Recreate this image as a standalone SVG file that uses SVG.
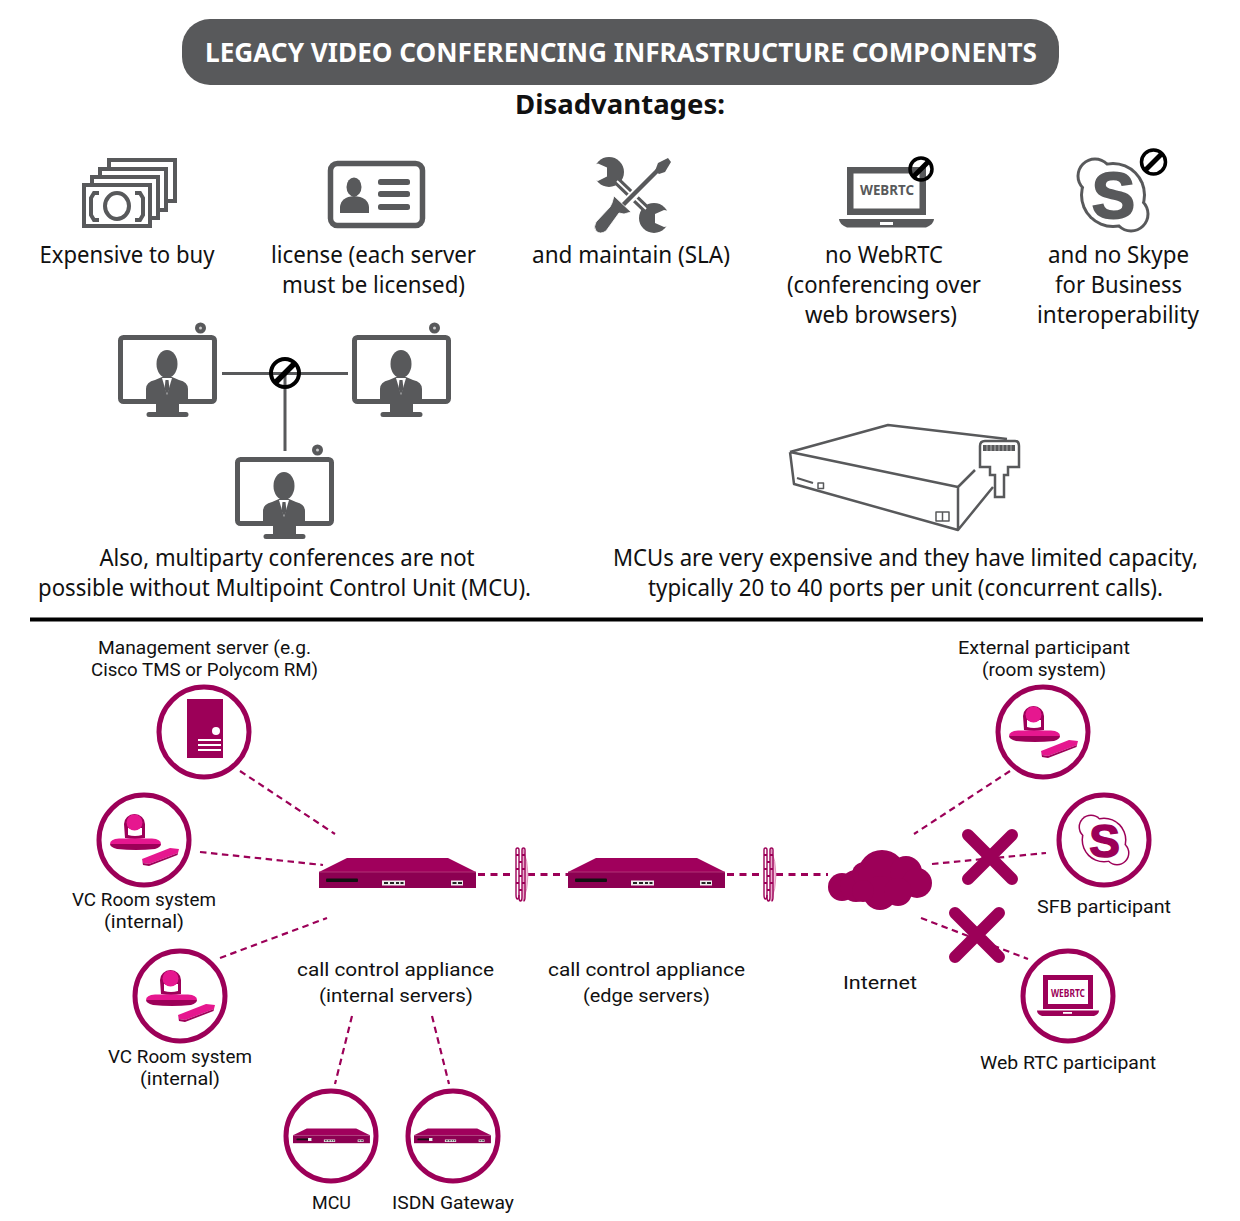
<svg xmlns="http://www.w3.org/2000/svg" xmlns:xlink="http://www.w3.org/1999/xlink" width="1240" height="1221" viewBox="0 0 1240 1221">
<style>
text{font-family:"Noto Sans","Open Sans","Liberation Sans",sans-serif;fill:#111}
.b{font-size:23px}
.l{font-size:18.7px;font-family:Roboto,"Noto Sans",sans-serif}
.h{font-weight:700}
.ring{fill:#fff;stroke:#9c0058;stroke-width:5}
.dash{fill:none;stroke:#9c0058;stroke-width:2.200;stroke-dasharray:6.500 4.500}
.chain{fill:none;stroke:#9c0058;stroke-width:2.800;stroke-dasharray:7 5.500}
.x{fill:none;stroke:#9c0058;stroke-width:12;stroke-linecap:round}
.ban{fill:none;stroke:#000;stroke-width:3.500}
.g{fill:#58595b}
.gs{fill:none;stroke:#58595b}
.m{fill:#9c0058}
.p{fill:#e6178f}
.sk{font-family:"Liberation Sans",Arial,sans-serif;font-weight:700}
</style>
<defs>
<symbol id="screen" overflow="visible" viewBox="0 0 99 85" width="99" height="85">
<circle cx="82.500" cy="-7" r="5.500" class="g"/><circle cx="82.500" cy="-7" r="1.500" fill="#ccc"/>
<rect x="2.500" y="2.500" width="94" height="64" rx="3" fill="#fff" stroke="#58595b" stroke-width="5"/>
<ellipse cx="49" cy="29" rx="10.500" ry="14" class="g"/>
<path class="g" d="M28 69V54Q28 47 37 45L44 42H54L61 45Q70 47 70 54V69H61V77H68Q70.500 77 70.500 79.500T68 82H31Q28.500 82 28.500 79.500T31 77H38V69Z"/>
<path fill="#fff" d="M44 43H54L49 60Z"/>
<path class="g" d="M47.500 45H50.500L51.500 54L49 59L46.500 54Z"/>
</symbol>
<symbol id="cam" overflow="visible" viewBox="0 0 94 94" width="94" height="94">
<path class="m" d="M27 31A10.500 10 0 0 1 48 31L48 45Q38 47 28 45Z"/>
<path fill="#fff" d="M31 35H45V42Q38 44 31 42Z"/>
<circle cx="37.500" cy="29.500" r="8" class="p"/>
<path class="p" d="M13 51Q13 46 22 45.500H55Q64 46 64 51Z"/>
<path class="m" d="M13 51H64Q64 54 58 56Q39 58 20 56Q13 54 13 51Z"/>
<path class="p" d="M45 66L73 55L82 56L81 60L52 71L46 70Z"/>
<path class="m" d="M45 66L46 70L52 71L81 60L80.500 62L52 73L46 72Z"/>
</symbol>
<symbol id="device" overflow="visible" viewBox="0 0 157 30" width="157" height="30">
<path d="M0 14L28 0H129L157 14Z" fill="#a0005c"/>
<rect y="14" width="157" height="16" fill="#8c0052"/>
<path d="M0 14H157" stroke="#b8407f" stroke-width=".8"/>
<rect x="7" y="20.500" width="32" height="3.500" rx="1" fill="#111"/>
<rect x="63" y="22.500" width="23" height="5" fill="#eee"/>
<path d="M65 24h4v2h-4zM71 24h4v2h-4zM77 24h3v2h-3zM81.500 24h3v2h-3z" fill="#222"/>
<rect x="132" y="22.500" width="12" height="5" fill="#eee"/>
<path d="M133.500 24h4v2h-4zM139 24h4v2h-4z" fill="#222"/>
</symbol>
<symbol id="fw" overflow="visible" viewBox="0 0 13 55" width="13" height="55">
<path d="M8 2Q13 14 13 28Q13 42 8 54Z" fill="#f3c3dc" stroke="#d98ab4" stroke-width=".8"/>
<g fill="none" stroke="#9c0058" stroke-width="1.400">
<path d="M1 3Q1 1 2.500 1T4 3V50Q4 54 5.500 54T7 50V3Q7 1 8.500 1T10 3V50Q10 54 8.500 54"/>
<path d="M1 3V48Q1 52 2.500 52T4 48"/>
</g>
<path stroke="#9c0058" stroke-width="2" d="M1 8H4M7 8H10M4 15H7M1 22H4M7 22H10M4 29H7M1 36H4M7 36H10M4 43H7"/>
</symbol>
</defs>

<g id="title">
<rect x="182" y="19" width="877" height="66" rx="28" fill="#58595b"/>
<text x="621" y="62" text-anchor="middle" font-size="26" font-weight="700" style="fill:#fff" textLength="832" lengthAdjust="spacingAndGlyphs">LEGACY VIDEO CONFERENCING INFRASTRUCTURE COMPONENTS</text>
</g>
<text x="620" y="114" text-anchor="middle" font-size="27" class="h" textLength="210" lengthAdjust="spacingAndGlyphs">Disadvantages:</text>

<g id="money">
<g fill="#fff" stroke="#58595b" stroke-width="4">
<rect x="109" y="160" width="66" height="41"/>
<rect x="100" y="169" width="66" height="41"/>
<rect x="92" y="177" width="66" height="41"/>
<rect x="84" y="185" width="66" height="41"/>
</g>
<ellipse cx="117" cy="206" rx="12" ry="13" fill="none" stroke="#58595b" stroke-width="4"/>
<path class="gs" stroke-width="4" d="M99 193H94L91 198V215L94 220H99M135 193H140L143 198V215L140 220H135"/>
<text class="b" x="127" y="263" text-anchor="middle" textLength="175" lengthAdjust="spacingAndGlyphs">Expensive to buy</text>
</g>

<g id="license">
<rect x="330.500" y="163.500" width="92" height="62" rx="7" fill="#fff" stroke="#58595b" stroke-width="5.500"/>
<ellipse cx="354" cy="187" rx="7.500" ry="9.500" class="g"/>
<path class="g" d="M340 213V207Q341 197 354 196Q368 197 369 207V213Z"/>
<rect x="378" y="179" width="32" height="6" rx="2.500" class="g"/>
<rect x="378" y="191" width="32" height="6" rx="2.500" class="g"/>
<rect x="378" y="204" width="32" height="6" rx="2.500" class="g"/>
<text class="b" x="373.500" y="263" text-anchor="middle" textLength="205" lengthAdjust="spacingAndGlyphs">license (each server</text>
<text class="b" x="373.500" y="293" text-anchor="middle" textLength="183" lengthAdjust="spacingAndGlyphs">must be licensed)</text>
</g>

<g id="tools">
<circle cx="609" cy="172" r="15" class="g"/>
<path fill="#fff" d="M588 167L598 163.500L607 167.500V176.500L598 181L588 178Z"/>
<circle cx="654" cy="218" r="15" class="g"/>
<path fill="#fff" d="M676 212L664 210L655 214V223L664 227L676 225Z"/>
<path d="M617 181L646 209" stroke="#58595b" stroke-width="8"/>
<path d="M617 181L646 209" stroke="#fff" stroke-width="1.800"/>
<path d="M622 207L660 168" stroke="#fff" stroke-width="9"/>
<path d="M623 205L660 168" stroke="#58595b" stroke-width="4.500"/>
<path class="g" d="M668 158L671 162L665 172L659 174L655 171L658 163Z"/>
<path class="g" d="M614 196L631 212L624 214L619 213L606 231Q600 235 596 231Q593 227 596 222L610 207L612 203Z" stroke="#fff" stroke-width=".8"/>
<text class="b" x="631" y="263" text-anchor="middle" textLength="198" lengthAdjust="spacingAndGlyphs">and maintain (SLA)</text>
</g>

<g id="webrtc">
<rect x="850.250" y="170.250" width="72.500" height="41.500" fill="#fff" stroke="#58595b" stroke-width="6.500"/>
<path class="g" d="M839 219H934Q934 224 926 227.500H847Q839 224 839 219Z"/>
<rect x="880" y="222" width="13" height="3" fill="#fff"/>
<text x="887" y="195" text-anchor="middle" font-size="14" font-weight="700" style="fill:#58595b" textLength="54" lengthAdjust="spacingAndGlyphs">WEBRTC</text>
<circle cx="921" cy="169" r="11" class="ban"/>
<path d="M913 177L929 161" stroke="#000" stroke-width="5"/>
<text class="b" x="884" y="263" text-anchor="middle" textLength="118" lengthAdjust="spacingAndGlyphs">no WebRTC</text>
<text class="b" x="884" y="293" text-anchor="middle" textLength="194" lengthAdjust="spacingAndGlyphs">(conferencing over</text>
<text class="b" x="881" y="323" text-anchor="middle" textLength="152" lengthAdjust="spacingAndGlyphs">web browsers)</text>
</g>

<g id="skype">
<g class="g"><circle cx="1113" cy="195" r="33"/><circle cx="1095" cy="176" r="18.500"/><circle cx="1131" cy="214" r="18.500"/></g>
<g fill="#fff"><circle cx="1113" cy="195" r="30"/><circle cx="1095" cy="176" r="15.500"/><circle cx="1131" cy="214" r="15.500"/></g>
<text class="sk" x="1113.500" y="218" text-anchor="middle" font-size="65" style="fill:#58595b;stroke:#58595b;stroke-width:2">S</text>
<circle cx="1153.500" cy="162" r="12" class="ban"/>
<path d="M1145 170.500L1162 153.500" stroke="#000" stroke-width="5"/>
<text class="b" x="1118.500" y="263" text-anchor="middle" textLength="141" lengthAdjust="spacingAndGlyphs">and no Skype</text>
<text class="b" x="1118.500" y="293" text-anchor="middle" textLength="127" lengthAdjust="spacingAndGlyphs">for Business</text>
<text class="b" x="1118" y="323" text-anchor="middle" textLength="162" lengthAdjust="spacingAndGlyphs">interoperability</text>
</g>

<g id="multiparty">
<path d="M222 373.500H348M285 373.500V451" fill="none" stroke="#58595b" stroke-width="3"/>
<use xlink:href="#screen" href="#screen" x="118" y="335"/>
<use xlink:href="#screen" href="#screen" x="352" y="335"/>
<use xlink:href="#screen" href="#screen" x="235" y="457"/>
<circle cx="285" cy="373" r="14" fill="none" stroke="#000" stroke-width="4"/>
<path d="M275 383L295 363" stroke="#000" stroke-width="5.500"/>
<text class="b" x="287" y="566" text-anchor="middle" textLength="375" lengthAdjust="spacingAndGlyphs">Also, multiparty conferences are not</text>
<text class="b" x="284.500" y="596" text-anchor="middle" textLength="493" lengthAdjust="spacingAndGlyphs">possible without Multipoint Control Unit (MCU).</text>
</g>

<g id="mcu-box">
<g fill="none" stroke="#58595b" stroke-width="2.500" stroke-linejoin="round">
<path d="M790 452L888 425L1007 439M790 452L794 484L958 530V487L790 452M958 530L993 487M958 487L975 470"/>
<path stroke-width="2" d="M797 478L813 483"/>
<rect x="818" y="483" width="5.500" height="5.500" stroke-width="1.500"/>
<rect x="936" y="512" width="13" height="9" stroke-width="1.500"/>
<path stroke-width="1.500" d="M942.500 512V521"/>
</g>
<path d="M980 446Q980 441 985 441H1015Q1019 441 1019 446V467H1008V475H1004V497H995V475H990V467H980Z" fill="#fff" stroke="#58595b" stroke-width="2.500"/>
<rect x="983" y="445" width="32" height="6" fill="#58595b"/>
<path d="M987 445V451M991 445V451M995 445V451M999 445V451M1003 445V451M1007 445V451M1011 445V451" stroke="#ccc" stroke-width=".8"/>
<text class="b" x="905.500" y="566" text-anchor="middle" textLength="585" lengthAdjust="spacingAndGlyphs">MCUs are very expensive and they have limited capacity,</text>
<text class="b" x="905.500" y="596" text-anchor="middle" textLength="515" lengthAdjust="spacingAndGlyphs">typically 20 to 40 ports per unit (concurrent calls).</text>
</g>

<path id="divider" d="M30 619.500H1203" stroke="#000" stroke-width="4"/>

<g id="connectors">
<path class="dash" d="M240 771L335 834"/>
<path class="dash" d="M200 852L323 865"/>
<path class="dash" d="M220 958L327 918"/>
<path class="chain" d="M478 874.500H515M528 874.500H568M727 874.500H763M776 874.500H828"/>
<path class="dash" d="M1010 771L914 834"/>
<path class="dash" d="M932 864L1046 853"/>
<path class="dash" d="M921 918L1028 959"/>
<path class="dash" d="M352 1016L335 1084"/>
<path class="dash" d="M432 1016L449 1084"/>
</g>

<g id="mgmt">
<circle class="ring" cx="204" cy="732" r="45"/>
<rect x="187" y="699" width="36" height="59" class="m"/>
<circle cx="216" cy="731" r="4" fill="#fff"/>
<path d="M198 740H221M198 745H221M198 750H221" stroke="#fff" stroke-width="1.800"/>
<text class="l" x="204.500" y="654" text-anchor="middle" textLength="213" lengthAdjust="spacingAndGlyphs">Management server (e.g.</text>
<text class="l" x="204.500" y="676" text-anchor="middle" textLength="227" lengthAdjust="spacingAndGlyphs">Cisco TMS or Polycom RM)</text>
</g>

<g id="vc-room-1">
<circle class="ring" cx="144" cy="840" r="45"/>
<use xlink:href="#cam" href="#cam" x="97" y="793"/>
<text class="l" x="144" y="906" text-anchor="middle" textLength="144" lengthAdjust="spacingAndGlyphs">VC Room system</text>
<text class="l" x="144" y="928" text-anchor="middle" textLength="80" lengthAdjust="spacingAndGlyphs">(internal)</text>
</g>

<g id="vc-room-2">
<circle class="ring" cx="180" cy="996" r="45"/>
<use xlink:href="#cam" href="#cam" x="133" y="949"/>
<text class="l" x="180" y="1063" text-anchor="middle" textLength="144" lengthAdjust="spacingAndGlyphs">VC Room system</text>
<text class="l" x="180" y="1085" text-anchor="middle" textLength="80" lengthAdjust="spacingAndGlyphs">(internal)</text>
</g>

<g id="call-internal">
<use xlink:href="#device" href="#device" x="319" y="858"/>
<text class="l" x="395.500" y="976" text-anchor="middle" textLength="197" lengthAdjust="spacingAndGlyphs">call control appliance</text>
<text class="l" x="396" y="1002" text-anchor="middle" textLength="154" lengthAdjust="spacingAndGlyphs">(internal servers)</text>
</g>

<g id="firewall-1"><use xlink:href="#fw" href="#fw" x="515" y="847"/></g>

<g id="call-edge">
<use xlink:href="#device" href="#device" x="568" y="858"/>
<text class="l" x="646.500" y="976" text-anchor="middle" textLength="197" lengthAdjust="spacingAndGlyphs">call control appliance</text>
<text class="l" x="646.500" y="1002" text-anchor="middle" textLength="127" lengthAdjust="spacingAndGlyphs">(edge servers)</text>
</g>

<g id="firewall-2"><use xlink:href="#fw" href="#fw" x="763" y="847"/></g>

<g id="internet">
<g class="m">
<circle cx="842" cy="887" r="14"/><circle cx="856" cy="886" r="16"/><circle cx="864" cy="874" r="12"/><circle cx="882" cy="874" r="24"/><circle cx="906" cy="872" r="16"/><circle cx="917" cy="883" r="15"/><circle cx="880" cy="893" r="17"/><circle cx="898" cy="892" r="14"/><circle cx="863" cy="891" r="11"/>
</g>
<text class="l" x="880" y="989" text-anchor="middle" textLength="74" lengthAdjust="spacingAndGlyphs">Internet</text>
</g>

<g id="external">
<circle class="ring" cx="1043" cy="732" r="45"/>
<use xlink:href="#cam" href="#cam" x="996" y="685"/>
<text class="l" x="1044" y="654" text-anchor="middle" textLength="172" lengthAdjust="spacingAndGlyphs">External participant</text>
<text class="l" x="1044" y="676" text-anchor="middle" textLength="124" lengthAdjust="spacingAndGlyphs">(room system)</text>
</g>

<g id="sfb">
<circle class="ring" cx="1104" cy="840" r="45"/>
<g class="m"><circle cx="1104" cy="840" r="22.500"/><circle cx="1091" cy="827" r="12.500"/><circle cx="1117" cy="853" r="12.500"/></g>
<g fill="#fff"><circle cx="1104" cy="840" r="21"/><circle cx="1091" cy="827" r="11"/><circle cx="1117" cy="853" r="11"/></g>
<text class="sk" x="1104.500" y="856.500" text-anchor="middle" font-size="46" style="fill:#9c0058;stroke:#9c0058;stroke-width:1.500">S</text>
<path class="x" d="M968 835L1012 879M1012 835L968 879"/>
<text class="l" x="1104" y="913" text-anchor="middle" textLength="134" lengthAdjust="spacingAndGlyphs">SFB participant</text>
</g>

<g id="webrtc-participant">
<circle class="ring" cx="1068" cy="996" r="45"/>
<rect x="1045.500" y="977.500" width="45" height="29" fill="#fff" stroke="#9c0058" stroke-width="5"/>
<path class="m" d="M1037 1010.500H1099Q1099 1014 1094 1016H1042Q1037 1014 1037 1010.500Z"/>
<rect x="1063" y="1012" width="9" height="1.800" fill="#fff"/>
<text x="1068" y="996.500" text-anchor="middle" font-size="10" font-weight="700" style="fill:#9c0058" textLength="34" lengthAdjust="spacingAndGlyphs">WEBRTC</text>
<path class="x" d="M955 913L999 957M999 913L955 957"/>
<text class="l" x="1068" y="1069" text-anchor="middle" textLength="176" lengthAdjust="spacingAndGlyphs">Web RTC participant</text>
</g>

<g id="mcu">
<circle class="ring" cx="331" cy="1136" r="45"/>
<use xlink:href="#device" href="#device" transform="translate(293 1128.500) scale(.49)"/>
<rect x="308" y="1138" width="3.500" height="3" fill="#eee"/>
<text class="l" x="331.500" y="1209" text-anchor="middle" textLength="39" lengthAdjust="spacingAndGlyphs">MCU</text>
</g>

<g id="isdn">
<circle class="ring" cx="453" cy="1136" r="45"/>
<use xlink:href="#device" href="#device" transform="translate(414 1128.500) scale(.49)"/>
<rect x="429" y="1138" width="3.500" height="3" fill="#eee"/>
<text class="l" x="453" y="1209" text-anchor="middle" textLength="122" lengthAdjust="spacingAndGlyphs">ISDN Gateway</text>
</g>
</svg>
